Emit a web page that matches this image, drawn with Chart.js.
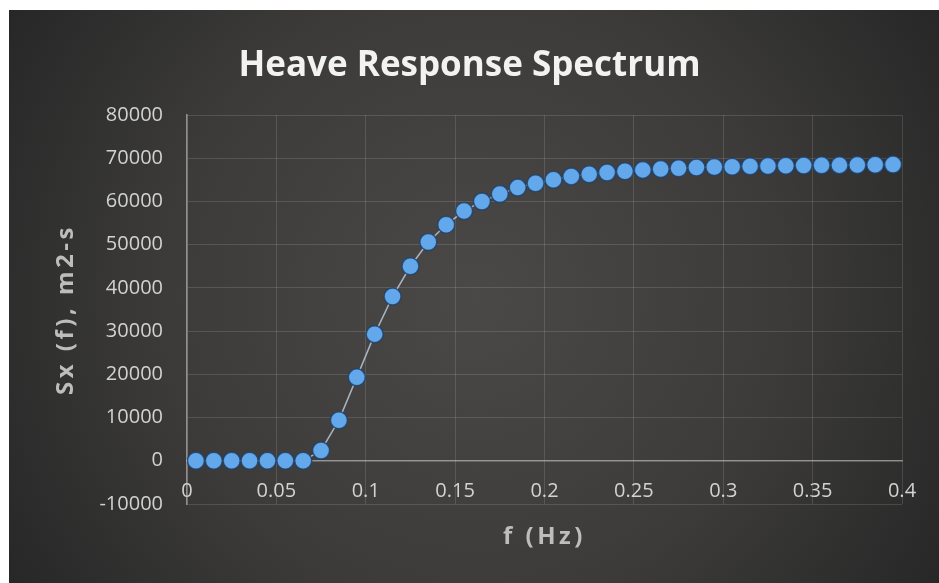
<!DOCTYPE html>
<html>
<head>
<meta charset="utf-8">
<title>Heave Response Spectrum</title>
<script src="https://cdn.jsdelivr.net/npm/chart.js@4/dist/chart.umd.min.js"></script>
<style>
  html, body { margin: 0; padding: 0; background: #ffffff; }
  body { width: 939px; height: 583px; overflow: hidden; position: relative; }
  #wrap { position: absolute; left: 9px; top: 10px; width: 930px; height: 573px; }
  canvas { display: block; }
</style>
</head>
<body>
<div id="wrap"><canvas id="chart" width="930" height="573"></canvas></div>
<script>
// Frequency (Hz) of each sample
const freq = [
  0.005, 0.015, 0.025, 0.035, 0.045, 0.055, 0.065, 0.075, 0.085, 0.095,
  0.105, 0.115, 0.125, 0.135, 0.145, 0.155, 0.165, 0.175, 0.185, 0.195,
  0.205, 0.215, 0.225, 0.235, 0.245, 0.255, 0.265, 0.275, 0.285, 0.295,
  0.305, 0.315, 0.325, 0.335, 0.345, 0.355, 0.365, 0.375, 0.385, 0.395
];

// Heave response Sx(f), m2-s
const sx = [
  0, 0, 0, 0, 0, 0, 0, 2400, 9400, 19300,
  29300, 38000, 45000, 50600, 54600, 57800, 60000, 61700, 63200, 64200,
  65000, 65800, 66300, 66700, 67000, 67300, 67500, 67700, 67850, 67950,
  68050, 68150, 68200, 68250, 68300, 68350, 68400, 68450, 68500, 68550
];

// Axis ranges and tick steps
const xRange = [0, 0.4];
const xStep = 0.05;
const yRange = [-10000, 80000];
const yStep = 10000;

const chartTitle = 'Heave Response Spectrum';
const xTitle = 'f (Hz)';
const yTitle = 'Sx (f), m2-s';

const FONT = "'Open Sans', 'Liberation Sans', sans-serif";
const AXIS_TITLE_SPACING = '3.5px';

// Dark radial backdrop behind the whole chart
const backdrop = {
  id: 'backdrop',
  beforeDraw(chart) {
    const { ctx, width, height } = chart;
    const g = ctx.createRadialGradient(width * 0.5, height * 0.5, 0, width * 0.5, height * 0.5, width * 0.6);
    g.addColorStop(0, '#4b4947');
    g.addColorStop(0.55, '#3c3b3a');
    g.addColorStop(1, '#262626');
    ctx.save();
    ctx.fillStyle = g;
    ctx.fillRect(0, 0, width, height);
    ctx.restore();
  }
};

// Axis titles are drawn with expanded letter spacing
const spacedAxisTitles = {
  id: 'spacedAxisTitles',
  beforeDraw(chart) {
    Object.values(chart.scales).forEach(scale => {
      if (scale.$spaced) return;
      const orig = scale.drawTitle;
      scale.drawTitle = function () {
        const ctx = this.ctx;
        ctx.save();
        ctx.letterSpacing = AXIS_TITLE_SPACING;
        orig.call(this);
        ctx.restore();
      };
      scale.$spaced = true;
    });
  }
};

const points = freq.map((f, i) => ({ x: f, y: sx[i] }));

new Chart(document.getElementById('chart'), {
  type: 'line',
  data: {
    datasets: [{
      label: yTitle,
      data: points,
      borderColor: 'rgba(185,200,215,0.85)',
      borderWidth: 1.5,
      pointRadius: 8.5,
      pointHoverRadius: 8.5,
      pointBackgroundColor: '#62a8ea',
      pointBorderColor: 'rgba(30,62,104,0.8)',
      pointBorderWidth: 1.5,
      tension: 0,
      fill: false
    }]
  },
  options: {
    responsive: false,
    animation: false,
    devicePixelRatio: 1,
    layout: { padding: { left: 0, top: 0, right: 9, bottom: 79 } },
    plugins: {
      legend: { display: false },
      tooltip: { enabled: false },
      title: {
        display: true,
        text: chartTitle,
        color: '#f2f2f2',
        font: { family: FONT, size: 35, weight: 'bold', lineHeight: 1.2 },
        padding: { top: 35, bottom: 28 }
      }
    },
    scales: {
      x: {
        type: 'linear',
        position: { y: 0 },
        min: xRange[0],
        max: xRange[1],
        afterFit(scale) { scale.height = 79; },
        ticks: {
          stepSize: xStep,
          color: '#d2d2d2',
          padding: 19,
          font: { family: FONT, size: 20, lineHeight: 1.2 },
          callback: v => String(v),
          maxRotation: 0
        },
        grid: {
          color: 'rgba(255,255,255,0.13)',
          lineWidth: 1,
          drawTicks: false
        },
        border: { display: true, color: 'rgba(200,200,200,0.55)', width: 1.5 },
        title: {
          display: true,
          text: xTitle,
          color: '#bdbdbd',
          font: { family: FONT, size: 24, weight: 'bold', lineHeight: 1.2 },
          padding: { top: 0, bottom: -11.4 }
        }
      },
      y: {
        type: 'linear',
        position: 'left',
        min: yRange[0],
        max: yRange[1],
        afterFit(scale) { scale.width = 178; },
        ticks: {
          stepSize: yStep,
          color: '#d2d2d2',
          padding: 24,
          font: { family: FONT, size: 20, lineHeight: 1.2 },
          callback: v => String(v)
        },
        grid: {
          color: 'rgba(255,255,255,0.13)',
          lineWidth: 1,
          drawTicks: false
        },
        border: { display: true, color: 'rgba(200,200,200,0.6)', width: 1.5 },
        title: {
          display: true,
          text: yTitle,
          color: '#bdbdbd',
          font: { family: FONT, size: 24, weight: 'bold', lineHeight: 1.2 },
          padding: { top: 42.6, bottom: 0 }
        }
      },
      // empty right-hand margin strip, keeps the plot clear of the right edge
      yMargin: {
        type: 'linear',
        position: 'right',
        afterFit(scale) { scale.width = 28; },
        ticks: { display: false },
        grid: { display: false, drawTicks: false },
        border: { display: false },
        title: { display: false }
      }
    }
  },
  plugins: [backdrop, spacedAxisTitles]
});
</script>
</body>
</html>
